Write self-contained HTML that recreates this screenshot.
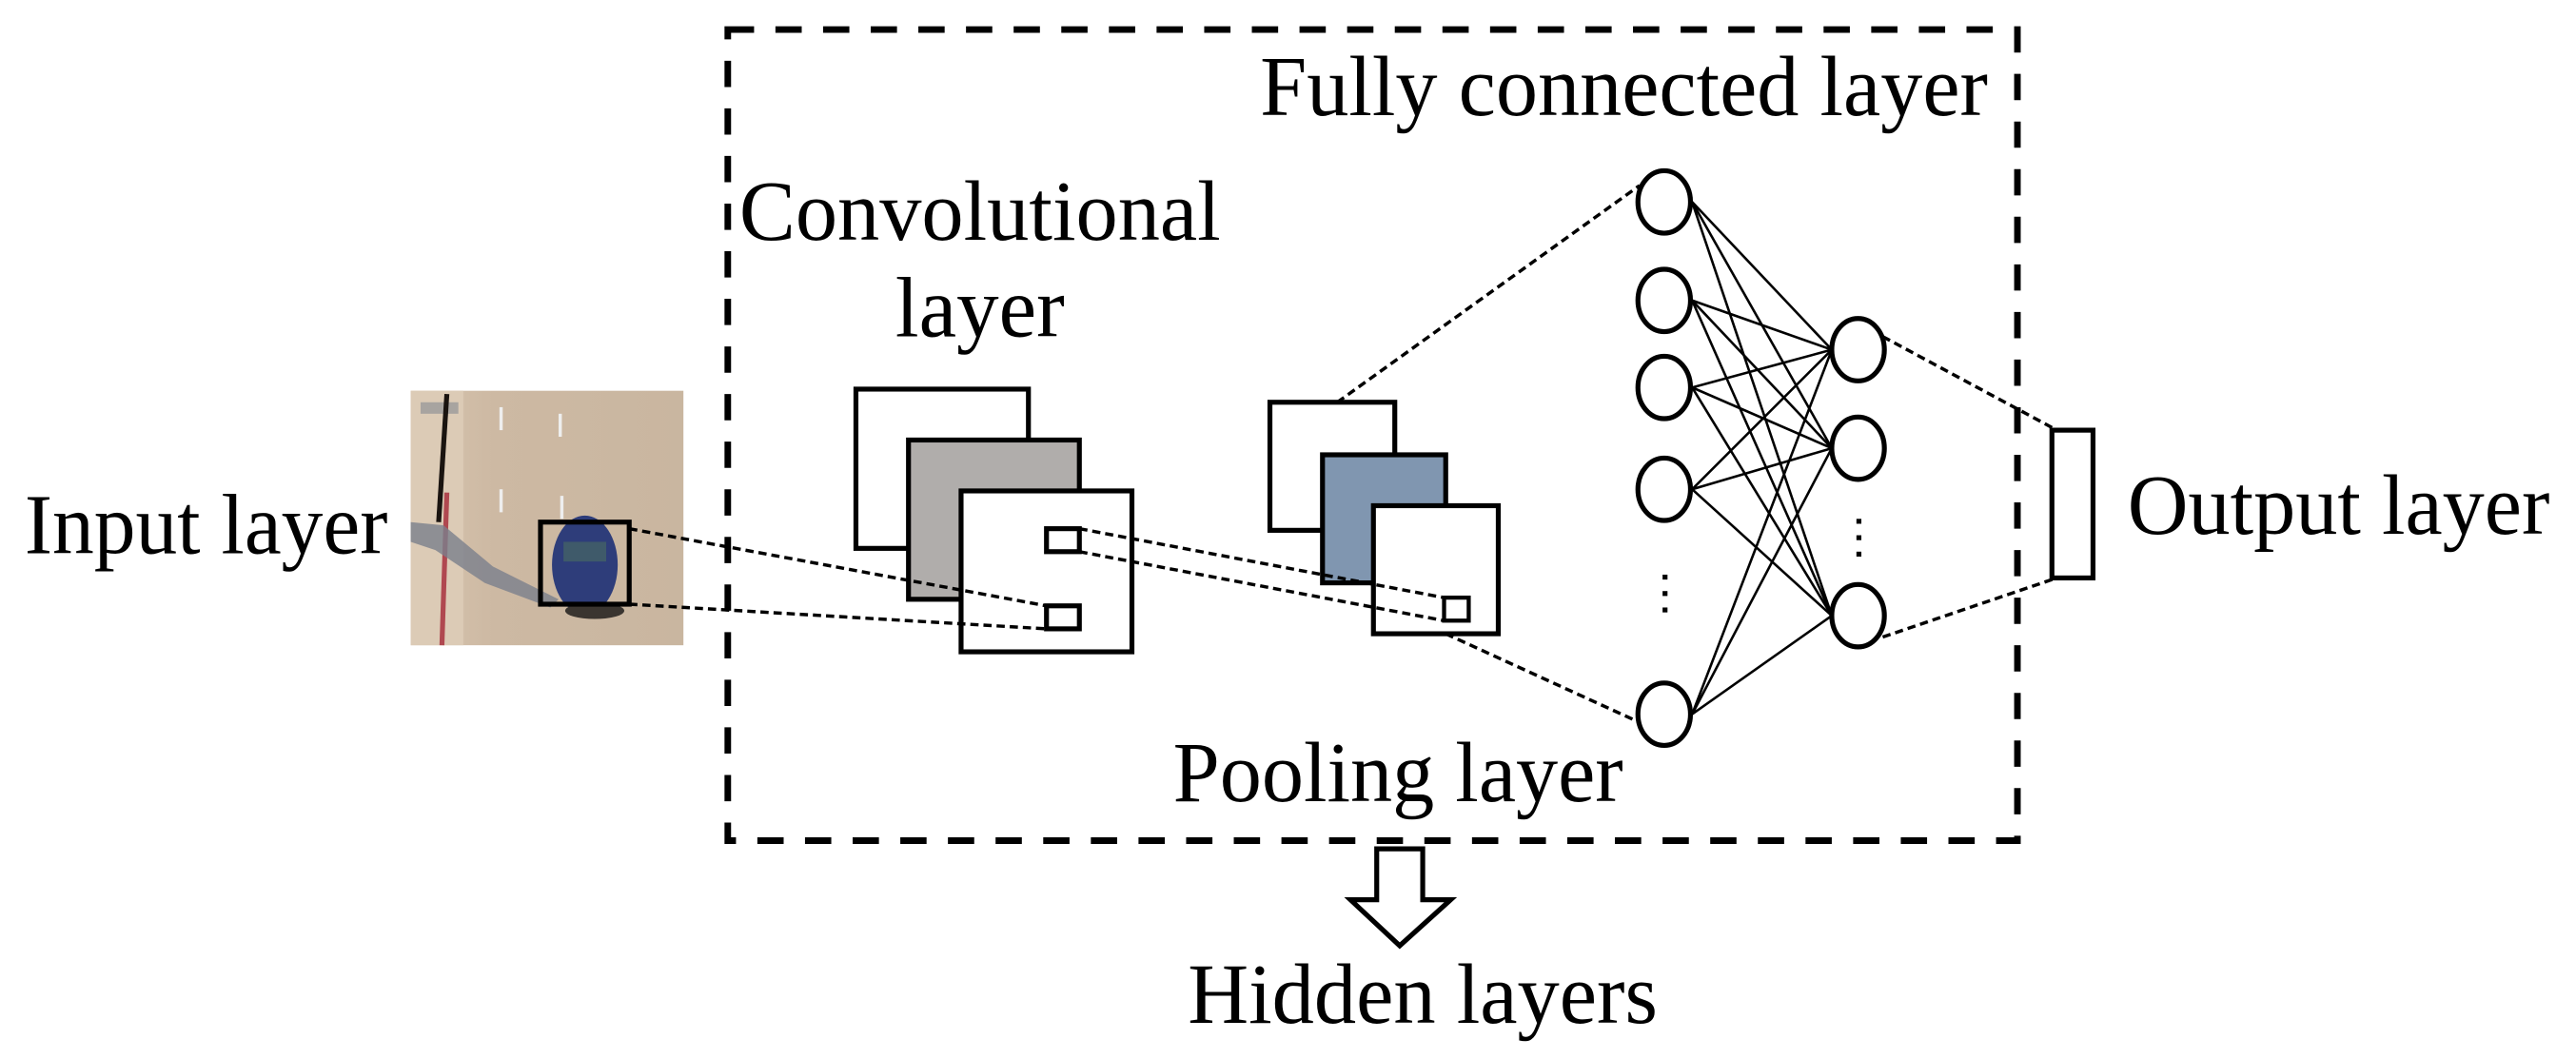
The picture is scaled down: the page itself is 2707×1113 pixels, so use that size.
<!DOCTYPE html>
<html><head><meta charset="utf-8"><style>html,body{margin:0;padding:0;background:#fff;width:2707px;height:1113px;overflow:hidden}svg{display:block}text{font-family:"Liberation Serif",serif;font-size:52px;fill:#000}</style></head><body>
<svg width="2707" height="1113" viewBox="0 0 1568 645" preserveAspectRatio="none" xmlns="http://www.w3.org/2000/svg">
<defs>
<linearGradient id="road" x1="0" y1="0" x2="1" y2="0"><stop offset="0" stop-color="#d8c6b0"/><stop offset="0.3" stop-color="#cdb9a3"/><stop offset="1" stop-color="#c9b6a0"/></linearGradient>
</defs>
<!-- dashed box -->
<rect x="443" y="18" width="785" height="494" fill="none" stroke="#000" stroke-width="4" stroke-dasharray="16,13"/>
<!-- input image -->
<rect x="250" y="238" width="166" height="155" fill="url(#road)"/>
<rect x="250" y="238" width="32" height="155" fill="#dccbb6"/>
<rect x="256" y="245" width="23" height="7" fill="#a8a4a0"/>
<line x1="272" y1="240" x2="267" y2="318" stroke="#1a1410" stroke-width="3"/>
<line x1="272" y1="300" x2="269" y2="393" stroke="#b04850" stroke-width="3"/>
<path d="M250 318 L270 320 L300 345 L340 365 L335 370 L295 355 L265 335 L250 330Z" fill="#7a7f8c" opacity="0.8"/>
<rect x="304" y="248" width="2" height="14" fill="#eee"/><rect x="304" y="298" width="2" height="14" fill="#eee"/>
<rect x="340" y="252" width="2" height="14" fill="#eee"/><rect x="341" y="302" width="2" height="14" fill="#eee"/>
<ellipse cx="356" cy="344" rx="20" ry="30" fill="#2e3d7a"/>
<rect x="343" y="330" width="26" height="12" fill="#3f5a6a"/>
<ellipse cx="362" cy="372" rx="18" ry="5" fill="#3a3530"/>
<rect x="329" y="318" width="54" height="50" fill="none" stroke="#000" stroke-width="3"/>
<!-- conv rects -->
<rect x="521" y="237" width="105" height="97" fill="#fff" stroke="#000" stroke-width="3"/>
<rect x="553" y="268" width="104" height="97" fill="#b0adab" stroke="#000" stroke-width="3"/>
<rect x="585" y="299" width="104" height="98" fill="#fff" stroke="#000" stroke-width="3"/>
<rect x="637" y="322" width="20" height="14" fill="#fff" stroke="#000" stroke-width="3"/>
<rect x="637" y="369" width="20" height="14" fill="#fff" stroke="#000" stroke-width="3"/>
<!-- pool rects -->
<rect x="773" y="245" width="76" height="78" fill="#fff" stroke="#000" stroke-width="3"/>
<rect x="805" y="277" width="75" height="78" fill="#8096b0" stroke="#000" stroke-width="3"/>
<rect x="836" y="308" width="76" height="78" fill="#fff" stroke="#000" stroke-width="3"/>
<rect x="879" y="364" width="15" height="14" fill="#fff" stroke="#000" stroke-width="2.5"/>
<!-- dashed connectors -->
<g stroke="#000" stroke-width="2" stroke-dasharray="5,3" fill="none">
<line x1="383" y1="322" x2="637" y2="369"/>
<line x1="383" y1="368" x2="637" y2="383"/>
<line x1="657" y1="322" x2="879" y2="364"/>
<line x1="657" y1="336" x2="879" y2="378"/>
<line x1="814" y1="245" x2="998" y2="113"/>
<line x1="880" y1="386" x2="998" y2="440"/>
<line x1="1146" y1="205" x2="1252" y2="262"/>
<line x1="1146" y1="388" x2="1252" y2="352"/>
</g>
<!-- full connections -->
<g stroke="#000" stroke-width="1.5">
<line x1="1030" y1="123" x2="1115" y2="213"/><line x1="1030" y1="123" x2="1115" y2="273"/><line x1="1030" y1="123" x2="1115" y2="375"/>
<line x1="1030" y1="183" x2="1115" y2="213"/><line x1="1030" y1="183" x2="1115" y2="273"/><line x1="1030" y1="183" x2="1115" y2="375"/>
<line x1="1030" y1="236" x2="1115" y2="213"/><line x1="1030" y1="236" x2="1115" y2="273"/><line x1="1030" y1="236" x2="1115" y2="375"/>
<line x1="1030" y1="298" x2="1115" y2="213"/><line x1="1030" y1="298" x2="1115" y2="273"/><line x1="1030" y1="298" x2="1115" y2="375"/>
<line x1="1030" y1="435" x2="1115" y2="213"/><line x1="1030" y1="435" x2="1115" y2="273"/><line x1="1030" y1="435" x2="1115" y2="375"/>
</g>
<g fill="#fff" stroke="#000" stroke-width="3">
<ellipse cx="1013" cy="123" rx="16" ry="19"/><ellipse cx="1013" cy="183" rx="16" ry="19"/><ellipse cx="1013" cy="236" rx="16" ry="19"/><ellipse cx="1013" cy="298" rx="16" ry="19"/><ellipse cx="1013" cy="435" rx="16" ry="19"/>
<ellipse cx="1131" cy="213" rx="16" ry="19"/><ellipse cx="1131" cy="273" rx="16" ry="19"/><ellipse cx="1131" cy="375" rx="16" ry="19"/>
</g>
<g fill="#000"><rect x="1012" y="350" width="3" height="3"/><rect x="1012" y="360" width="3" height="3"/><rect x="1012" y="370" width="3" height="3"/>
<rect x="1130" y="316" width="3" height="3"/><rect x="1130" y="326" width="3" height="3"/><rect x="1130" y="336" width="3" height="3"/></g>
<rect x="1249" y="262" width="25" height="90" fill="#fff" stroke="#000" stroke-width="3"/>
<!-- arrow -->
<path d="M838 517 L866 517 L866 548 L883 548 L852 576 L822 548 L838 548Z" fill="#fff" stroke="#000" stroke-width="3"/>
<!-- text -->
<text x="767" y="70" textLength="443" lengthAdjust="spacingAndGlyphs">Fully connected layer</text>
<text x="450" y="146" textLength="293" lengthAdjust="spacingAndGlyphs">Convolutional</text>
<text x="545" y="205" textLength="103" lengthAdjust="spacingAndGlyphs">layer</text>
<text x="15" y="337" textLength="221" lengthAdjust="spacingAndGlyphs">Input layer</text>
<text x="1295" y="325" textLength="257" lengthAdjust="spacingAndGlyphs">Output layer</text>
<text x="714" y="488" textLength="274" lengthAdjust="spacingAndGlyphs">Pooling layer</text>
<text x="723" y="623" textLength="286" lengthAdjust="spacingAndGlyphs">Hidden layers</text>
</svg>
</body></html>
